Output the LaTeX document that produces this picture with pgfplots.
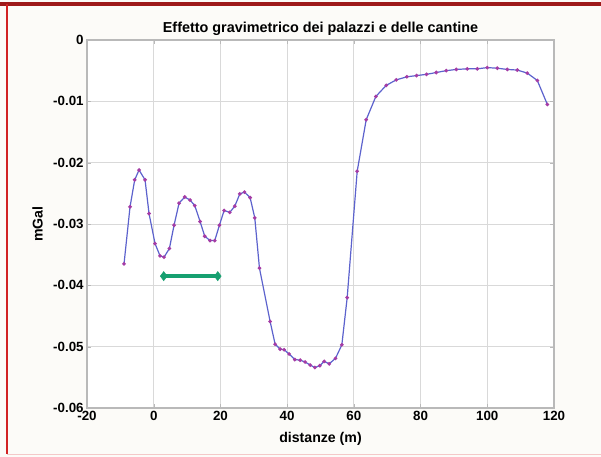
\documentclass[border=0pt]{standalone}
\usepackage{pgfplots}
\pgfplotsset{compat=1.18}
\usepackage{fontspec}
\setmainfont{Liberation Sans}
\definecolor{curve}{RGB}{92,98,205}
\definecolor{dots}{RGB}{165,60,165}
\definecolor{span}{RGB}{22,160,112}
\definecolor{framered}{RGB}{210,35,35}
\definecolor{bg}{RGB}{252,251,248}

\begin{document}
\begin{tikzpicture}
% page frame, laid out in pixel-like units
\begin{scope}[x=0.75pt,y=0.75pt]
  \useasboundingbox (0,0) rectangle (601,457);
  \fill[bg] (0,0) rectangle (601,457);
  \draw[framered!75!black, line width=2.4pt] (0,453) -- (601,453);
  \draw[framered, line width=1.4pt] (7,453) -- (7,2.5);
  \draw[framered!25, line width=1.2pt] (7,2.5) -- (601,2.5);
\end{scope}
\begin{axis}[
  at={(65.25pt,36.75pt)}, anchor=south west,
  scale only axis, width=350.25pt, height=276pt,
  xmin=-20, xmax=120, ymin=-0.06, ymax=0,
  xtick={-20,0,20,40,60,80,100,120},
  xticklabels={-20,0,20,40,60,80,100,120},
  ytick={-0.06,-0.05,-0.04,-0.03,-0.02,-0.01,0},
  yticklabels={-0.06,-0.05,-0.04,-0.03,-0.02,-0.01,0},
  scaled y ticks=false,
  axis background/.style={fill=white},
  grid=major,
  grid style={gray!30, line width=0.6pt},
  axis line style={gray!55, line width=0.8pt},
  tick style={gray!55}, tick align=inside, major tick length=3pt,
  tick label style={font=\bfseries\fontsize{10}{12}\selectfont},
  xticklabel style={yshift=1pt},
  yticklabel style={xshift=1pt},
  title={Effetto gravimetrico dei palazzi e delle cantine},
  title style={font=\bfseries\fontsize{10.8}{13}\selectfont, yshift=-6pt},
  xlabel={distanze (m)}, ylabel={mGal},
  label style={font=\bfseries\fontsize{10.6}{12}\selectfont},
  xlabel style={yshift=-2pt},
  ylabel style={yshift=1pt},
]
\addplot[curve, line width=0.9pt, mark=*, mark size=0.9pt,
  mark options={fill=dots, draw=dots}] coordinates {
  (-8.9,-0.0365) (-7.1,-0.0272) (-5.7,-0.0228) (-4.4,-0.0212)
  (-2.6,-0.0228) (-1.4,-0.0283) (0.4,-0.0332) (1.9,-0.0352)
  (3.1,-0.0354) (4.7,-0.0340) (6.1,-0.0302) (7.6,-0.0266)
  (9.3,-0.0256) (10.9,-0.0261) (12.3,-0.0270) (13.9,-0.0296)
  (15.3,-0.0320) (16.9,-0.0327) (18.3,-0.0327) (19.7,-0.0302)
  (21.1,-0.0278) (22.8,-0.0281) (24.3,-0.0271) (25.8,-0.0251)
  (27.2,-0.0248) (28.9,-0.0257) (30.3,-0.0290) (31.7,-0.0372)
  (34.9,-0.0459) (36.4,-0.0496) (37.9,-0.0504) (39.1,-0.0505)
  (40.6,-0.0512) (42.3,-0.0521) (43.9,-0.0522) (45.4,-0.0525)
  (46.9,-0.0530) (48.3,-0.0534) (49.8,-0.0531) (51.1,-0.0524)
  (52.6,-0.0528) (54.5,-0.0519) (56.4,-0.0497) (58.0,-0.0420)
  (61.0,-0.0214) (63.7,-0.0130) (66.6,-0.0092) (69.7,-0.0074)
  (72.7,-0.0065) (75.9,-0.0060) (78.8,-0.0058) (81.8,-0.0056)
  (84.7,-0.0053) (87.7,-0.0050) (90.7,-0.0048) (94.0,-0.0047)
  (97.0,-0.0047) (100.0,-0.0045) (103.0,-0.0046) (106.0,-0.0048)
  (109.0,-0.0049) (112.0,-0.0054) (115.0,-0.0066) (118.0,-0.0105)
};
% extent marker
\addplot[span, line width=2.8pt, mark=diamond*, mark size=3.4pt,
  mark options={fill=span, draw=span, line width=0.4pt}] coordinates {
  (3.0,-0.0385) (19.2,-0.0385)
};
\end{axis}
\end{tikzpicture}
\end{document}
